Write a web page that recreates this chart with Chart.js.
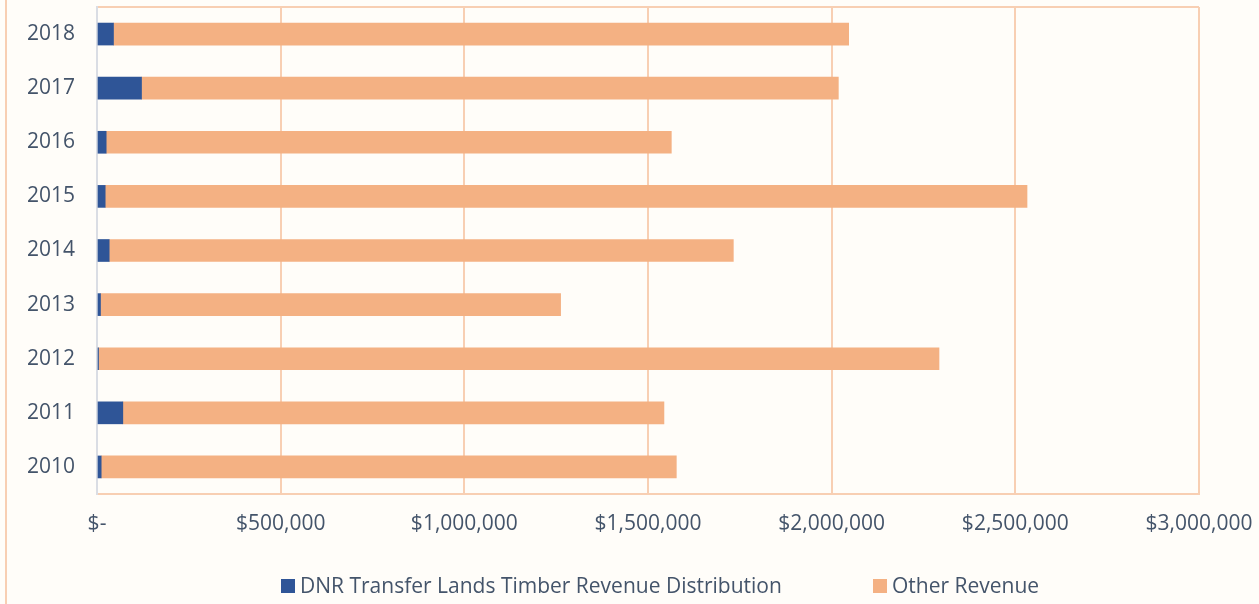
<!DOCTYPE html>
<html>
<head>
<meta charset="utf-8">
<script src="https://cdn.jsdelivr.net/npm/chart.js@4"></script>
<style>
    html, body { margin: 0; padding: 0; background: #fffdf9; }
    #wrap { position: relative; width: 1259px; height: 604px; }
    #edge { position: absolute; left: 5px; top: 0; width: 2px; height: 604px; background: #f8cfb3; }
    #legend { position: absolute; top: 571px; left: 0; width: 1259px; height: 28px; font-family: "Open Sans", sans-serif; font-size: 21px; color: #44546a; }
    .item { position: absolute; top: 0; white-space: nowrap; }
    .box { display: inline-block; width: 14px; height: 14px; margin-right: 5px; vertical-align: 0px; }
</style>
</head>
<body>
<div id="wrap">
    <canvas id="revenueChart" width="1259" height="604"></canvas>
    <div id="edge"></div>
    <div id="legend">
        <span class="item" style="left:281px"><span class="box" style="background:#2f5597"></span>DNR Transfer Lands Timber Revenue Distribution</span>
        <span class="item" style="left:873px"><span class="box" style="background:#f4b183"></span>Other Revenue</span>
    </div>
</div>
<script>
var years = ['2018', '2017', '2016', '2015', '2014', '2013', '2012', '2011', '2010'];
var dnrTimber = [44900, 121200, 25000, 22300, 33200, 9500, 4100, 70300, 11400];
var otherRevenue = [2001400, 1897000, 1538500, 2509500, 1699100, 1252600, 2288100, 1473100, 1565700];
var xTicks = [0, 500000, 1000000, 1500000, 2000000, 2500000, 3000000];

var textColor = '#44546a';
var peach = '#f8cfb3';

function money(v) {
    if (v === 0) return '$-';
    return '$' + v.toLocaleString('en-US');
}

var ctx = document.getElementById('revenueChart').getContext('2d');
var revenueChart = new Chart(ctx, {
    type: 'bar',
    data: {
        labels: years,
        datasets: [
            {
                label: 'DNR Transfer Lands Timber Revenue Distribution',
                data: dnrTimber,
                backgroundColor: '#2f5597',
                barThickness: 22
            },
            {
                label: 'Other Revenue',
                data: otherRevenue,
                backgroundColor: '#f4b183',
                barThickness: 22
            }
        ]
    },
    options: {
        indexAxis: 'y',
        responsive: false,
        animation: false,
        layout: {
            padding: { top: 7, right: 60, left: 0, bottom: 0 }
        },
        plugins: {
            legend: { display: false },
            tooltip: { enabled: false }
        },
        scales: {
            x: {
                stacked: true,
                min: 0,
                max: 3000000,
                afterBuildTicks: function(axis) {
                    axis.ticks = xTicks.map(function(v) { return { value: v }; });
                },
                afterFit: function(axis) {
                    axis.height = 110;
                    axis.paddingLeft = 0;
                    axis.paddingRight = 0;
                },
                ticks: {
                    color: textColor,
                    font: { family: 'Open Sans', size: 21 },
                    padding: 17,
                    maxRotation: 0,
                    autoSkip: false,
                    callback: function(v) { return money(v); }
                },
                grid: {
                    color: peach,
                    lineWidth: 2,
                    drawTicks: false
                },
                border: { color: peach, width: 2 }
            },
            y: {
                stacked: true,
                afterFit: function(axis) {
                    axis.width = 97;
                    axis.paddingTop = 0;
                    axis.paddingBottom = 0;
                },
                ticks: {
                    color: textColor,
                    font: { family: 'Open Sans', size: 21 },
                    padding: 22
                },
                grid: {
                    drawTicks: false,
                    lineWidth: 2,
                    color: function(c) { return c.index === 0 ? peach : 'rgba(0,0,0,0)'; }
                },
                border: { color: '#dadde4', width: 2 }
            }
        }
    }
});
</script>
</body>
</html>
